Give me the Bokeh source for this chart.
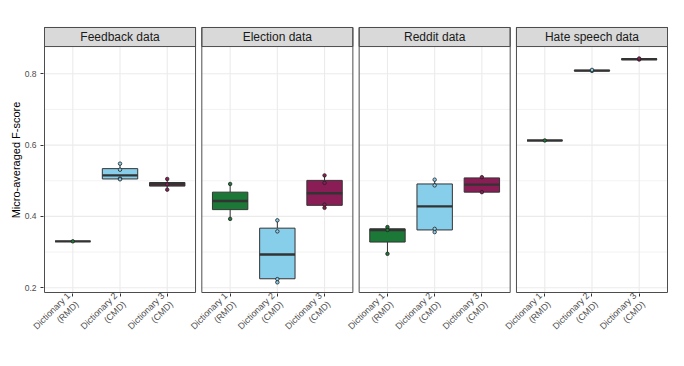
import numpy as np
from bokeh.plotting import figure
from bokeh.models import Range1d, FixedTicker, ColumnDataSource
from bokeh.core.properties import value
from bokeh.embed import file_html
from bokeh.resources import INLINE

# ---------------- data ----------------
datasets = ["Feedback data", "Election data", "Reddit data", "Hate speech data"]
methods = ["Dictionary 1\n(RMD)", "Dictionary 2\n(CMD)", "Dictionary 3\n(CMD)"]
method_colors = ["#1B7837", "#87CEEB", "#8B1D56"]

# box statistics: one row per dataset, one column per method
box_lower = [[0.330, 0.504, 0.475],
             [0.393, 0.215, 0.424],
             [0.295, 0.356, 0.468],
             [0.613, 0.808, 0.840]]
box_q1 = [[0.330, 0.505, 0.485],
          [0.419, 0.225, 0.431],
          [0.328, 0.362, 0.468],
          [0.613, 0.808, 0.840]]
box_median = [[0.330, 0.515, 0.490],
              [0.443, 0.293, 0.465],
              [0.362, 0.428, 0.489],
              [0.613, 0.809, 0.841]]
box_q3 = [[0.330, 0.534, 0.495],
          [0.468, 0.367, 0.501],
          [0.365, 0.491, 0.508],
          [0.613, 0.810, 0.842]]
box_upper = [[0.330, 0.548, 0.505],
             [0.491, 0.389, 0.515],
             [0.370, 0.503, 0.510],
             [0.613, 0.811, 0.843]]

# individual fold scores (visible points)
feedback_points = [[0.330], [0.548, 0.531, 0.506, 0.504], [0.505, 0.490, 0.475]]
election_points = [[0.491, 0.393], [0.389, 0.358, 0.224, 0.215], [0.515, 0.494, 0.433, 0.424]]
reddit_points = [[0.370, 0.362, 0.295], [0.503, 0.487, 0.365, 0.356], [0.510, 0.468]]
hate_points = [[0.613], [0.808, 0.811], [0.840, 0.843]]
all_points = [feedback_points, election_points, reddit_points, hate_points]

y_major = [0.2, 0.4, 0.6, 0.8]
y_minor = [0.3, 0.5, 0.7]
y_title = "Micro-averaged F-score"

# ---------------- layout ----------------
PITCH = 3.333          # panel pitch in category units
X_LO, X_HI = 0.4, 3.6  # panel extent around categories 1..3
HALF = 0.375           # half box width
Y_BOT = 0.1865         # panel bottom
Y_TOP = 0.8765         # panel top (strip bottom)
Y_STRIP = 0.9299       # strip top

FONT = "Liberation Sans"
BORDER = "#4d4d4d"
GRID = "#ebebeb"

p = figure(width=676, height=358, output_backend="svg", toolbar_location=None,
           x_range=Range1d(0.3788, 13.62), y_range=Range1d(0.1837, 0.9327),
           min_border_left=43, min_border_right=8, min_border_top=26, min_border_bottom=65)
p.outline_line_color = None
p.xgrid.visible = False
p.ygrid.visible = False
p.background_fill_color = "white"
p.border_fill_color = "white"

ticks = []
overrides = {}
for k in range(len(datasets)):
    off = k * PITCH
    x0, x1 = off + X_LO, off + X_HI
    # grid lines
    p.segment(x0=[x0] * len(y_minor), x1=[x1] * len(y_minor), y0=y_minor, y1=y_minor,
              line_color=GRID, line_width=0.6)
    p.segment(x0=[x0] * len(y_major), x1=[x1] * len(y_major), y0=y_major, y1=y_major,
              line_color=GRID, line_width=1.1)
    xs = [off + j + 1 for j in range(len(methods))]
    p.segment(x0=xs, x1=xs, y0=[Y_BOT] * len(xs), y1=[Y_TOP] * len(xs),
              line_color=GRID, line_width=1.1)
    for j, lab in enumerate(methods):
        ticks.append(xs[j])
        overrides[xs[j]] = lab

    src = ColumnDataSource(dict(
        x=xs,
        left=[x - HALF for x in xs], right=[x + HALF for x in xs],
        lower=box_lower[k], q1=box_q1[k], med=box_median[k], q3=box_q3[k], upper=box_upper[k],
        color=method_colors,
    ))
    # whiskers
    p.segment(x0="x", x1="x", y0="q3", y1="upper", source=src, line_color="#333333", line_width=1)
    p.segment(x0="x", x1="x", y0="lower", y1="q1", source=src, line_color="#333333", line_width=1)
    # boxes
    p.quad(left="left", right="right", bottom="q1", top="q3", source=src,
           fill_color="color", line_color="#333333", line_width=1)
    # medians
    p.segment(x0="left", x1="right", y0="med", y1="med", source=src,
              line_color="#333333", line_width=2.4)
    # points
    px, py, pc = [], [], []
    for j, vals in enumerate(all_points[k]):
        for v in vals:
            px.append(xs[j])
            py.append(v)
            pc.append(method_colors[j])
    p.scatter(x=px, y=py, size=3.5, fill_color=pc, line_color="#222222", line_width=0.8)

    # strip
    p.quad(left=[x0], right=[x1], bottom=[Y_TOP], top=[Y_STRIP],
           fill_color="#d9d9d9", line_color=BORDER, line_width=1)
    p.text(x=[(x0 + x1) / 2], y=[(Y_TOP + Y_STRIP) / 2], text=[datasets[k]],
           text_font=value(FONT), text_font_size=value("12px"), text_color="#1a1a1a",
           text_align="center", text_baseline="middle")
    # panel border
    p.quad(left=[x0], right=[x1], bottom=[Y_BOT], top=[Y_STRIP],
           fill_color=None, line_color=BORDER, line_width=1)

# axes
p.xaxis.ticker = FixedTicker(ticks=ticks)
p.xaxis.major_label_overrides = overrides
p.xaxis.major_label_orientation = np.pi / 4
p.xaxis.axis_line_color = None
p.xaxis.major_tick_in = 0
p.xaxis.major_tick_out = 3
p.xaxis.major_tick_line_color = "#333333"
p.xaxis.minor_tick_line_color = None
p.xaxis.major_label_text_font = FONT
p.xaxis.major_label_text_font_size = "9px"
p.xaxis.major_label_text_color = "#4d4d4d"
p.xaxis.major_label_standoff = 2

p.yaxis.ticker = FixedTicker(ticks=y_major)
p.yaxis.axis_line_color = None
p.yaxis.major_tick_in = 0
p.yaxis.major_tick_out = 3
p.yaxis.major_tick_line_color = "#333333"
p.yaxis.minor_tick_line_color = None
p.yaxis.major_label_text_font = FONT
p.yaxis.major_label_text_font_size = "8.5px"
p.yaxis.major_label_text_color = "#4d4d4d"
p.yaxis.major_label_standoff = 4
p.yaxis.axis_label = y_title
p.yaxis.axis_label_text_font = FONT
p.yaxis.axis_label_text_font_size = "11px"
p.yaxis.axis_label_text_font_style = "normal"
p.yaxis.axis_label_text_color = "#000000"
p.yaxis.axis_label_standoff = 0

open("out.html", "w").write(file_html(p, INLINE))
